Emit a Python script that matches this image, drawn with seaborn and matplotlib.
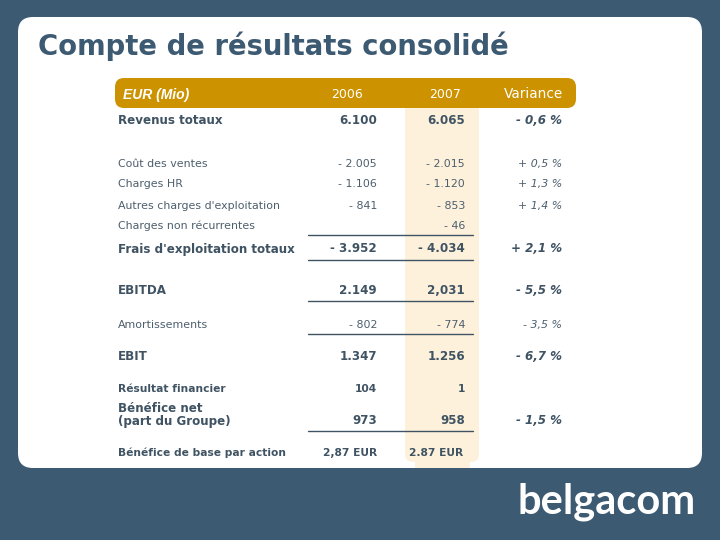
import matplotlib
matplotlib.use("Agg")
import matplotlib.pyplot as plt
from matplotlib.patches import FancyBboxPatch, Rectangle
import seaborn as sns

title = "Compte de résultats consolidé"
headers = ["EUR (Mio)", "2006", "2007", "Variance"]
labels = ["Revenus totaux", "Coût des ventes", "Charges HR", "Autres charges d'exploitation",
          "Charges non récurrentes", "Frais d'exploitation totaux", "EBITDA", "Amortissements",
          "EBIT", "Résultat financier", "Bénéfice net\n(part du Groupe)", "Bénéfice de base par action"]
values_2006 = ["6.100", "- 2.005", "- 1.106", "- 841", "", "- 3.952", "2.149", "- 802",
               "1.347", "104", "973", "2,87 EUR"]
values_2007 = ["6.065", "- 2.015", "- 1.120", "- 853", "- 46", "- 4.034", "2,031", "- 774",
               "1.256", "1", "958", "2.87 EUR"]
variance = ["- 0,6 %", "+ 0,5 %", "+ 1,3 %", "+ 1,4 %", "", "+ 2,1 %", "- 5,5 %", "- 3,5 %",
            "- 6,7 %", "", "- 1,5 %", ""]

# layout (pixels)
row_y = [121, 164, 184, 206, 226, 249, 290, 325, 356, 389, 421, 453]
strong = [True, False, False, False, False, True, True, False, True, True, True, True]
sizes_lbl = [8.6, 7.9, 7.9, 7.9, 7.9, 8.6, 8.6, 7.9, 8.6, 7.7, 8.6, 7.7]
rules = [235, 260, 301, 334, 431]

BG = "#3D5A73"; INK = "#3F5363"; SOFT = "#4D5F6D"; GOLD = "#CC9200"; CREAM = "#FDF1DC"

sns.set_theme(style="white", rc={"figure.facecolor": BG, "axes.facecolor": BG})
plt.rcParams["font.family"] = ["DejaVu Sans"]

fig = plt.figure(figsize=(7.2, 5.4), dpi=100)
ax = fig.add_axes([0, 0, 1, 1])
ax.set_xlim(0, 720); ax.set_ylim(540, 0); ax.axis("off")

ax.add_patch(FancyBboxPatch((18, 17), 684, 451, boxstyle="round,pad=0,rounding_size=15",
                            fc="white", ec="none", zorder=0))
ax.text(38, 46, title, fontsize=19.8, fontweight="bold", color=BG, va="center", ha="left")

# highlighted column
ax.add_patch(FancyBboxPatch((405, 100), 74, 362, boxstyle="round,pad=0,rounding_size=8",
                            fc=CREAM, ec="none", zorder=1))
ax.add_patch(Rectangle((415, 460), 55, 8, fc=CREAM, ec="none", zorder=1))

# header band
ax.add_patch(FancyBboxPatch((115, 78), 461, 30, boxstyle="round,pad=0,rounding_size=9",
                            fc=GOLD, ec="none", zorder=2))
ax.text(123, 95, headers[0], color="white", fontsize=10, style="italic", va="center", zorder=3,
        family=["Liberation Sans"], fontweight="bold")
ax.text(347, 95, headers[1], color="white", fontsize=9, va="center", ha="center", zorder=3)
ax.text(445, 94, headers[2], color="white", fontsize=9, va="center", ha="center", zorder=3)
ax.text(533.5, 94, headers[3], color="white", fontsize=9.8, va="center", ha="center", zorder=3)

for i, y in enumerate(row_y):
    w = "bold" if strong[i] else "normal"
    sz = sizes_lbl[i]
    c = INK if strong[i] else SOFT
    if "\n" in labels[i]:
        a, b = labels[i].split("\n")
        ax.text(118, 408, a, fontsize=sz, fontweight=w, color=c, va="center", zorder=3)
        ax.text(118, y, b, fontsize=sz, fontweight=w, color=c, va="center", zorder=3)
    else:
        ax.text(118, y, labels[i], fontsize=sz, fontweight=w, color=c, va="center", zorder=3)
    ax.text(377, y, values_2006[i], fontsize=sz, fontweight=w, color=c, va="center", ha="right", zorder=3)
    ax.text(465 if i != 11 else 463, y, values_2007[i], fontsize=sz, fontweight=w, color=c,
            va="center", ha="right", zorder=3)
    ax.text(562, y, variance[i], fontsize=sz, fontweight=w, style="italic", color=c,
            va="center", ha="right", zorder=3)

for y in rules:
    ax.plot([308, 473], [y, y], color=INK, lw=1, zorder=3)

ax.text(517, 502, "belgacom", color="white", fontsize=30, family=["Lato"], fontweight="bold",
        va="center", ha="left")

fig.savefig("out.png", dpi=100, facecolor=BG)
